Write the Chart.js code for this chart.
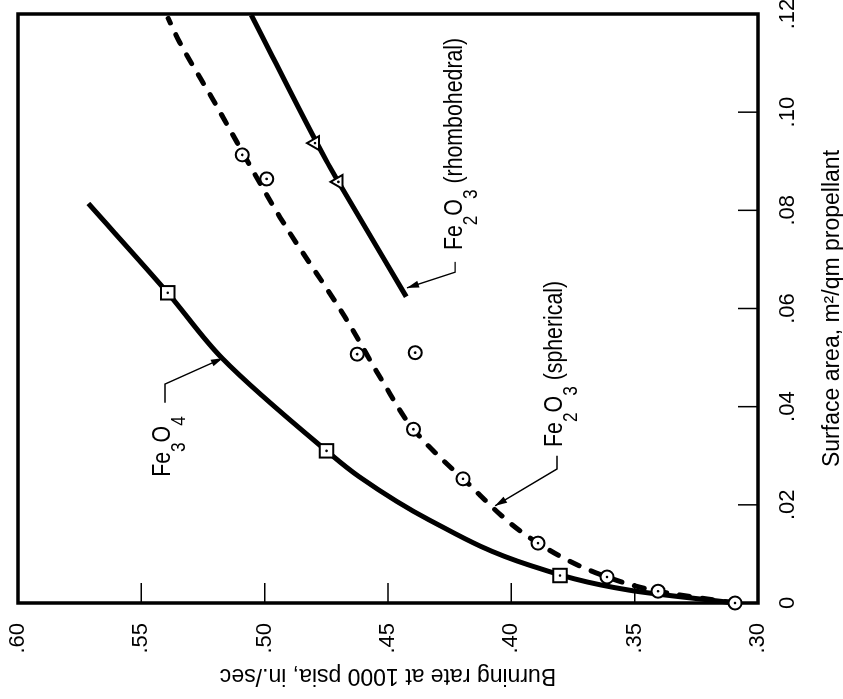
<!DOCTYPE html>
<html>
<head>
<meta charset="utf-8">
<script src="https://cdn.jsdelivr.net/npm/chart.js@4.4.1/dist/chart.umd.min.js"></script>
<style>
  html, body { margin: 0; padding: 0; background: #fff; overflow: hidden; }
  /* the plot is drawn upright, then turned a quarter turn like the printed figure */
  #wrap { position: absolute; left: 0; top: 0; width: 699px; height: 843px;
          transform-origin: 0 0; transform: translate(0, 699px) rotate(-90deg); }
  canvas { display: block; }
</style>
</head>
<body>
<div id="wrap"><canvas id="myChart" width="699" height="843"></canvas></div>
<script>
var FONT = "'Liberation Sans', Arial, sans-serif";

// surface area (m2/gm) and burning rate (in./sec)
var areaTicks = [0, 0.02, 0.04, 0.06, 0.08, 0.10, 0.12];
var rateTicks = [0.30, 0.35, 0.40, 0.45, 0.50, 0.55, 0.60];

// Fe3O4 faired curve and squares
var fe3o4Area = [0, 0.0026, 0.0077, 0.0169, 0.0257, 0.0310, 0.0498, 0.0632, 0.0814];
var fe3o4Rate = [0.3093, 0.352, 0.3926, 0.4332, 0.4616, 0.4749, 0.5171, 0.5393, 0.5715];
var fe3o4PtArea = [0.0056, 0.0310, 0.0632];
var fe3o4PtRate = [0.3803, 0.4749, 0.5393];

// Fe2O3 spherical, dashed curve and circles
var sphArea = [0, 0.0024, 0.0053, 0.0122, 0.0253, 0.0354, 0.0454, 0.0583, 0.0786, 0.1025, 0.1141, 0.1191];
var sphRate = [0.3093, 0.3405, 0.3612, 0.3892, 0.4196, 0.4397, 0.4525, 0.4675, 0.4938, 0.5209, 0.5343, 0.5391];
var sphPtArea = [0, 0.0024, 0.0053, 0.0122, 0.0253, 0.0354, 0.0507, 0.0510, 0.0864, 0.0913];
var sphPtRate = [0.3093, 0.3405, 0.3612, 0.3892, 0.4196, 0.4397, 0.4625, 0.4390, 0.4992, 0.5091];

// Fe2O3 rhombohedral, solid line and triangles
var rhoArea = [0.0624, 0.0858, 0.0902, 0.1198];
var rhoRate = [0.4426, 0.4701, 0.4751, 0.5054];
var rhoPtArea = [0.0858, 0.0937];
var rhoPtRate = [0.4701, 0.4796];

function pts(xs, ys) {
  return xs.map(function (v, i) { return { x: v, y: ys[i] }; });
}

function tickText(v) {
  if (Math.abs(v) < 1e-9) return "0";
  return v.toFixed(2).replace(/^0/, "");
}

// labels with leader arrows, positions in data units
var notes = [
  { parts: [["Fe", 0], ["3", 1], ["O", 0], ["4", 1]],
    at: [0.0257, 0.5384],
    path: [[0.0408, 0.5404], [0.0446, 0.5404], [0.0499, 0.5169]] },
  { parts: [["Fe", 0], ["2", 1], ["O", 0], ["3", 1], [" (spherical)", 0]],
    at: [0.0318, 0.3795],
    path: [[0.0300, 0.3815], [0.0273, 0.3815], [0.0198, 0.4066]] },
  { parts: [["Fe", 0], ["2", 1], ["O", 0], ["3", 1], [" (rhombohedral)", 0]],
    at: [0.0719, 0.4200],
    path: [[0.0695, 0.4228], [0.0674, 0.4228], [0.0642, 0.4423]] }
];

var framePlugin = {
  id: "frame",
  beforeDatasetsDraw: function (chart) {
    var ctx = chart.ctx, a = chart.chartArea;
    var x = chart.scales.x, y = chart.scales.y;
    ctx.save();
    ctx.strokeStyle = "#000";
    ctx.lineWidth = 1.5;
    ctx.beginPath();
    areaTicks.slice(1, -1).forEach(function (v) {
      var px = x.getPixelForValue(v);
      ctx.moveTo(px, a.bottom);
      ctx.lineTo(px, a.bottom - 20);
    });
    rateTicks.slice(1, -1).forEach(function (v) {
      var py = y.getPixelForValue(v);
      ctx.moveTo(a.left, py);
      ctx.lineTo(a.left + 20, py);
    });
    ctx.stroke();
    ctx.lineWidth = 3.5;
    ctx.strokeRect(a.left, a.top, a.right - a.left, a.bottom - a.top);
    ctx.restore();
  },
  afterDatasetsDraw: function (chart) {
    var ctx = chart.ctx;
    var x = chart.scales.x, y = chart.scales.y;
    ctx.save();
    ctx.fillStyle = "#000";
    ctx.strokeStyle = "#000";
    ctx.textBaseline = "alphabetic";
    ctx.textAlign = "left";
    notes.forEach(function (n) {
      var px = x.getPixelForValue(n.at[0]);
      var py = y.getPixelForValue(n.at[1]);
      n.parts.forEach(function (p) {
        ctx.font = (p[1] ? "21px " : "26px ") + FONT;
        ctx.save();
        ctx.translate(px, py + (p[1] ? 15 : 0));
        ctx.scale(0.82, 1);
        ctx.fillText(p[0], 0, 0);
        ctx.restore();
        px += ctx.measureText(p[0]).width * 0.82;
      });
      // leader
      var q = n.path.map(function (d) { return [x.getPixelForValue(d[0]), y.getPixelForValue(d[1])]; });
      ctx.lineWidth = 1.4;
      ctx.beginPath();
      ctx.moveTo(q[0][0], q[0][1]);
      for (var i = 1; i < q.length; i++) ctx.lineTo(q[i][0], q[i][1]);
      ctx.stroke();
      var t = q[q.length - 1], s = q[q.length - 2];
      var ang = Math.atan2(t[1] - s[1], t[0] - s[0]);
      ctx.beginPath();
      ctx.moveTo(t[0], t[1]);
      ctx.lineTo(t[0] - 12 * Math.cos(ang) + 3.5 * Math.sin(ang), t[1] - 12 * Math.sin(ang) - 3.5 * Math.cos(ang));
      ctx.lineTo(t[0] - 12 * Math.cos(ang) - 3.5 * Math.sin(ang), t[1] - 12 * Math.sin(ang) + 3.5 * Math.cos(ang));
      ctx.closePath();
      ctx.fill();
    });
    ctx.restore();
  }
};

var lineStyle = { showLine: true, pointRadius: 0, borderColor: "#000", borderWidth: 5,
                  cubicInterpolationMode: "monotone", clip: false, order: 3 };

var markerStyle = { pointBackgroundColor: "#fff", pointBorderColor: "#000", pointBorderWidth: 2,
                    clip: false, order: 2 };

var dotStyle = { pointRadius: 1.3, pointBackgroundColor: "#000", pointBorderWidth: 0, clip: false, order: 1 };

var ctx = document.getElementById("myChart").getContext("2d");
var chart = new Chart(ctx, {
  type: "scatter",
  data: {
    datasets: [
      Object.assign({ label: "Fe3O4", data: pts(fe3o4Area, fe3o4Rate) }, lineStyle),
      Object.assign({ label: "Fe2O3 spherical", data: pts(sphArea, sphRate), borderDash: [10, 13],
                      borderCapStyle: "round" }, lineStyle),
      Object.assign({ label: "Fe2O3 rhombohedral", data: pts(rhoArea, rhoRate) }, lineStyle),
      Object.assign({ label: "Fe3O4 data", data: pts(fe3o4PtArea, fe3o4PtRate), pointStyle: "rect", pointRadius: 9.5 }, markerStyle),
      Object.assign({ label: "spherical data", data: pts(sphPtArea, sphPtRate), pointStyle: "circle", pointRadius: 6.5 }, markerStyle),
      Object.assign({ label: "rhombohedral data", data: pts(rhoPtArea, rhoPtRate), pointStyle: "triangle", pointRadius: 8 }, markerStyle),
      Object.assign({ label: "c1", data: pts(fe3o4PtArea, fe3o4PtRate) }, dotStyle),
      Object.assign({ label: "c2", data: pts(sphPtArea, sphPtRate) }, dotStyle),
      Object.assign({ label: "c3", data: pts(rhoPtArea, rhoPtRate) }, dotStyle)
    ]
  },
  options: {
    responsive: false,
    animation: false,
    layout: { autoPadding: false, padding: { top: 18, right: 14, left: 0, bottom: 0 } },
    plugins: { legend: { display: false }, tooltip: { enabled: false } },
    scales: {
      x: {
        type: "linear", position: "bottom", min: 0, max: 0.12,
        grid: { display: false, drawTicks: false },
        border: { display: false },
        ticks: { stepSize: 0.02, padding: 17, color: "#000", font: { family: FONT, size: 22 },
                 callback: tickText },
        title: { display: true, text: "Surface area, m\u00b2/qm propellant", color: "#000",
                 font: { family: FONT, size: 23, lineHeight: 1 }, padding: { top: 0, bottom: -1.5 } },
        afterFit: function (s) { s.height = 85; s.paddingLeft = 0; s.paddingRight = 0; }
      },
      y: {
        type: "linear", position: "left", min: 0.30, max: 0.60,
        grid: { display: false, drawTicks: false },
        border: { display: false },
        ticks: { stepSize: 0.05, padding: 20, color: "#000", font: { family: FONT, size: 22 },
                 callback: tickText },
        title: { display: true, text: "Burning rate at 1000 psia, in./sec", color: "#000",
                 font: { family: FONT, size: 23, lineHeight: 1 }, padding: { top: 12, bottom: 0 } },
        afterFit: function (s) { s.width = 96; s.paddingTop = 0; s.paddingBottom = 0; }
      }
    }
  },
  plugins: [framePlugin]
});
</script>
</body>
</html>
